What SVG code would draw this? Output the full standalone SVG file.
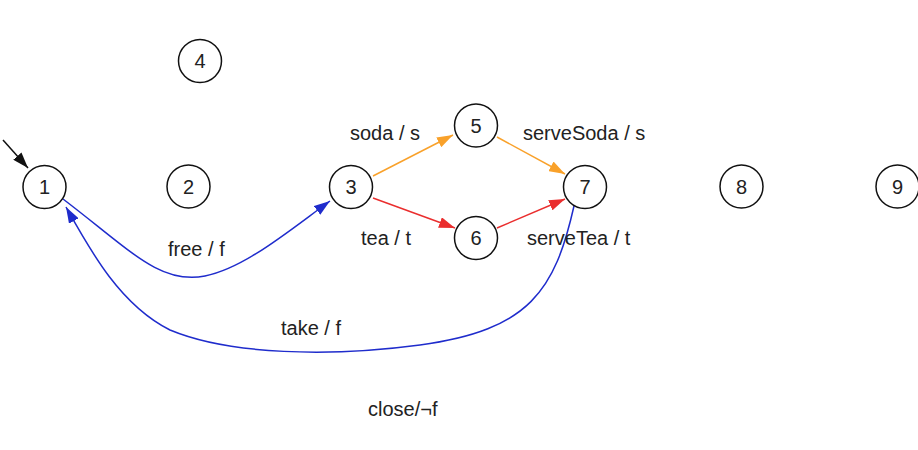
<svg xmlns="http://www.w3.org/2000/svg" width="918" height="450" viewBox="0 0 918 450">
<style>
.node circle{fill:#fff;stroke:#111;stroke-width:1.5}
text{font-family:"Liberation Sans",Arial,sans-serif;font-size:20px;fill:#222}
.node text{text-anchor:middle}
.e{fill:none;stroke-width:1.5}
</style>
<defs>
<marker id="aK" viewBox="0 0 16 11" refX="16" refY="5.5" markerWidth="16" markerHeight="11" markerUnits="userSpaceOnUse" orient="auto"><path d="M0,0 L16,5.5 L0,11 z" fill="#111"/></marker>
<marker id="aO" viewBox="0 0 16 11" refX="16" refY="5.5" markerWidth="16" markerHeight="11" markerUnits="userSpaceOnUse" orient="auto"><path d="M0,0 L16,5.5 L0,11 z" fill="#f9a12a"/></marker>
<marker id="aR" viewBox="0 0 16 11" refX="16" refY="5.5" markerWidth="16" markerHeight="11" markerUnits="userSpaceOnUse" orient="auto"><path d="M0,0 L16,5.5 L0,11 z" fill="#ea2e2e"/></marker>
<marker id="aB" viewBox="0 0 16 11" refX="16" refY="5.5" markerWidth="16" markerHeight="11" markerUnits="userSpaceOnUse" orient="auto"><path d="M0,0 L16,5.5 L0,11 z" fill="#1f2ccc"/></marker>
</defs>
<g id="connectors">
<path class="e" d="M3,140 L28,168" stroke="#111" marker-end="url(#aK)"/>
<path class="e" d="M373,176 L453,135" stroke="#f9a12a" marker-end="url(#aO)"/>
<path class="e" d="M497,137 L565,174" stroke="#f9a12a" marker-end="url(#aO)"/>
<path class="e" d="M373,198 L455,228" stroke="#ea2e2e" marker-end="url(#aR)"/>
<path class="e" d="M497,228 L565,199" stroke="#ea2e2e" marker-end="url(#aR)"/>
<path class="e" d="M63,199 C130,250 160,285 205,276 C245,268 290,230 330,201" stroke="#1f2ccc" marker-end="url(#aB)"/>
<path class="e" d="M574,206 C555,290 530,330 420,345 C330,357 230,355 170,330 C120,305 90,250 66,207" stroke="#1f2ccc" marker-end="url(#aB)"/>
</g>
<g id="labels">
<text x="350" y="140">soda / s</text>
<text x="523" y="140">serveSoda / s</text>
<text x="361" y="245">tea / t</text>
<text x="527" y="245">serveTea / t</text>
<text x="168" y="256">free / f</text>
<text x="281" y="335">take / f</text>
<text x="368" y="416">close/¬f</text>
</g>
<g id="n1" class="node"><circle cx="44.5" cy="187" r="21.5"/><text x="44.5" y="194">1</text></g>
<g id="n2" class="node"><circle cx="188.5" cy="186.5" r="21.5"/><text x="188.5" y="193.5">2</text></g>
<g id="n3" class="node"><circle cx="351" cy="187" r="21.5"/><text x="351" y="194">3</text></g>
<g id="n4" class="node"><circle cx="200" cy="61" r="21.5"/><text x="200" y="68">4</text></g>
<g id="n5" class="node"><circle cx="476" cy="125.5" r="21.5"/><text x="476" y="132.5">5</text></g>
<g id="n6" class="node"><circle cx="476" cy="238" r="21.5"/><text x="476" y="245">6</text></g>
<g id="n7" class="node"><circle cx="585" cy="187" r="21.5"/><text x="585" y="194">7</text></g>
<g id="n8" class="node"><circle cx="741.5" cy="186.5" r="21.5"/><text x="741.5" y="193.5">8</text></g>
<g id="n9" class="node"><circle cx="897.5" cy="186.5" r="21.5"/><text x="897.5" y="193.5">9</text></g>
</svg>
